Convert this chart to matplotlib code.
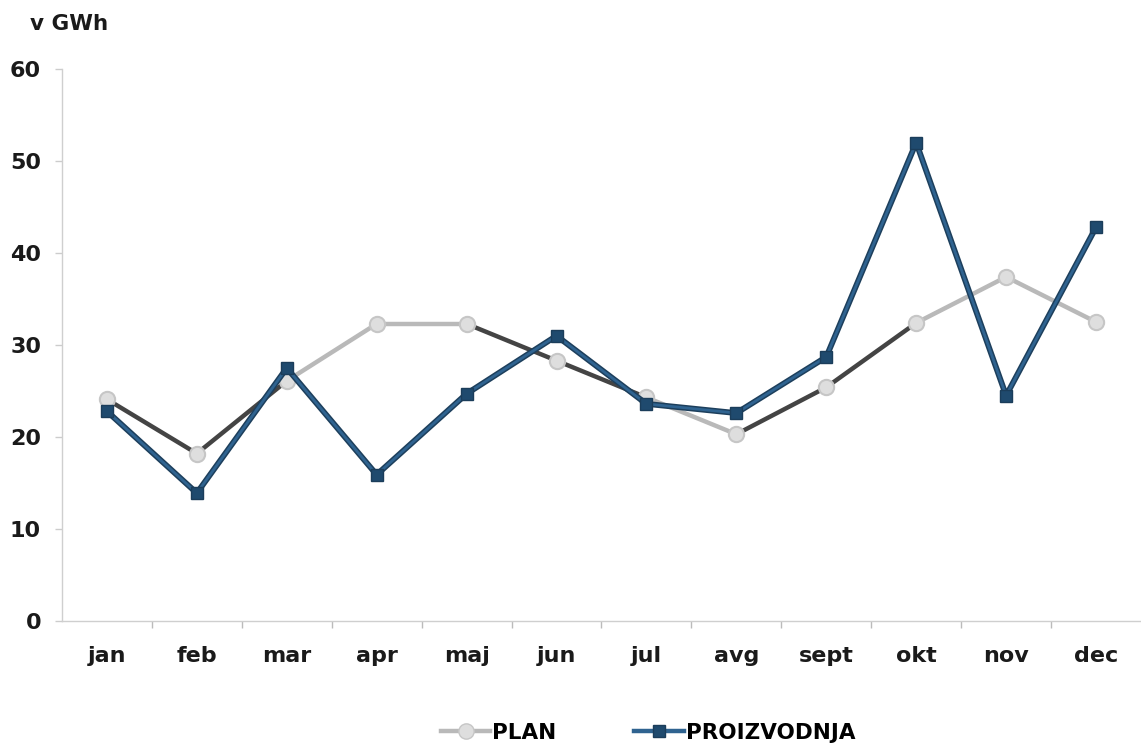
import matplotlib
matplotlib.use("Agg")
import matplotlib.pyplot as plt
from matplotlib.lines import Line2D

months = ["jan", "feb", "mar", "apr", "maj", "jun", "jul", "avg", "sept", "okt", "nov", "dec"]
plan = [24.1, 18.2, 26.1, 32.3, 32.3, 28.3, 24.3, 20.3, 25.4, 32.4, 37.4, 32.5]
proizvodnja = [22.8, 13.9, 27.5, 15.9, 24.7, 31.0, 23.6, 22.6, 28.7, 52.0, 24.5, 42.8]
yticks = [0, 10, 20, 30, 40, 50, 60]

plt.rcParams['font.family'] = ['DejaVu Sans']
fig = plt.figure(figsize=(11.41, 7.47), dpi=100)
ax = fig.add_axes([0.0543, 0.1687, 0.9457, 0.7389])

x = list(range(len(months)))
light = "#b9b9b9"
dark = "#444444"
seg_colors = [dark, dark, light, light, dark, dark, light, dark, dark, light, light]
for i in range(len(months) - 1):
    ax.plot(x[i:i+2], plan[i:i+2], color=seg_colors[i], lw=3.2, solid_capstyle='butt', zorder=2)
ax.plot(x, plan, ls='none', marker='o', ms=11, mfc="#dedede", mec="#c6c6c6", mew=1.5, zorder=3)

ax.plot(x, proizvodnja, color="#1d3f5c", lw=4.2, zorder=4)
ax.plot(x, proizvodnja, color="#2f6390", lw=2.0, zorder=5)
ax.plot(x, proizvodnja, ls='none', marker='s', ms=9, mfc="#1f4a6e", mec="#1b3d5a", mew=1, zorder=6)

ax.set_xlim(-0.5, len(months) - 0.5)
ax.set_ylim(0, 60)
ax.set_yticks(yticks)
ax.set_yticklabels([str(v) for v in yticks], fontsize=16, fontweight='bold', color="#1a1a1a")
ax.set_xticks(x)
ax.set_xticklabels(months, fontsize=16, fontweight='bold', color="#1a1a1a")
ax.set_xticks([i + 0.5 for i in range(len(months) - 1)], minor=True)
ax.tick_params(axis='x', which='major', length=0, pad=18)
ax.tick_params(axis='x', which='minor', length=5, color="#bbbbbb", width=1, direction='out')
ax.tick_params(axis='y', length=5, color="#cccccc", width=1, pad=10)

for s in ['top', 'right']:
    ax.spines[s].set_visible(False)
for s in ['left', 'bottom']:
    ax.spines[s].set_color("#cfcfcf")
    ax.spines[s].set_linewidth(1)

fig.text(0.026, 0.968, "v GWh", fontsize=15.5, fontweight='bold', color="#1a1a1a", va='center', ha='left')

h1 = Line2D([0], [0], color=light, lw=3.2, marker='o', ms=11, mfc="#dedede", mec="#c6c6c6")
h2 = Line2D([0], [0], color="#2f6390", lw=3.2, marker='s', ms=9, mfc="#1f4a6e", mec="#1b3d5a")
fig.legend([h1, h2], ["PLAN", "PROIZVODNJA"], loc='center', bbox_to_anchor=(0.568, 0.019),
           ncol=2, frameon=False, handlelength=2.3, handletextpad=0.1, columnspacing=3.6,
           prop={'size': 15.5, 'weight': 'bold'})

fig.savefig("out.png", dpi=100)
